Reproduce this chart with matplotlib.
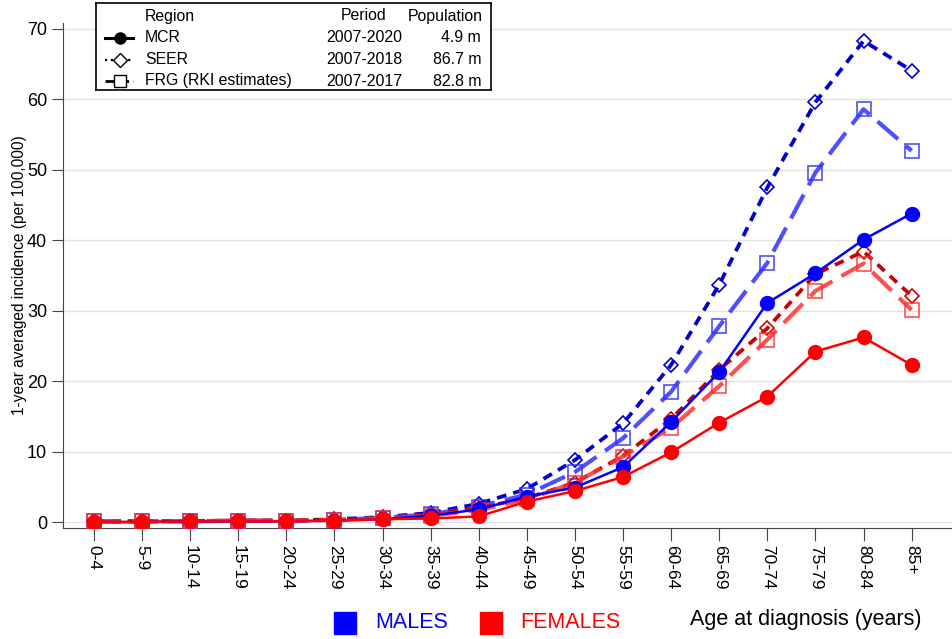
import numpy as np
import matplotlib
matplotlib.use('Agg')
import matplotlib.pyplot as plt
from matplotlib.patches import Rectangle

plt.rcParams['font.family'] = ['Liberation Sans', 'DejaVu Sans']

# 年龄组
ages = ['0-4', '5-9', '10-14', '15-19', '20-24', '25-29', '30-34', '35-39', '40-44',
        '45-49', '50-54', '55-59', '60-64', '65-69', '70-74', '75-79', '80-84', '85+']

# 男性
mcr_m = [0.0, 0.0, 0.1, 0.1, 0.1, 0.2, 0.4, 0.9, 1.8, 3.6, 4.9, 7.8, 14.2, 21.3, 31.1, 35.3, 40.1, 43.8]
seer_m = [0.1, 0.1, 0.1, 0.2, 0.2, 0.4, 0.7, 1.3, 2.6, 4.7, 8.8, 14.0, 22.3, 33.7, 47.5, 59.6, 68.3, 64.1]
frg_m = [0.1, 0.1, 0.1, 0.2, 0.2, 0.3, 0.6, 1.1, 2.2, 3.9, 7.1, 11.9, 18.5, 27.8, 36.8, 49.6, 58.6, 52.7]

# 女性
mcr_f = [0.0, 0.0, 0.1, 0.1, 0.1, 0.2, 0.4, 0.5, 0.8, 2.9, 4.4, 6.4, 9.9, 14.1, 17.8, 24.2, 26.2, 22.3]
seer_f = [0.1, 0.1, 0.1, 0.2, 0.2, 0.3, 0.6, 1.0, 2.0, 3.4, 5.6, 9.4, 14.6, 21.6, 27.5, 35.2, 38.4, 32.1]
frg_f = [0.1, 0.1, 0.1, 0.2, 0.2, 0.3, 0.5, 0.9, 1.7, 3.2, 5.6, 9.3, 13.4, 19.3, 25.9, 32.8, 36.7, 30.1]

regions = ['MCR', 'SEER', 'FRG (RKI estimates)']
periods = ['2007-2020', '2007-2018', '2007-2017']
populations = ['4.9 m', '86.7 m', '82.8 m']

x = np.arange(len(ages))

fig = plt.figure(figsize=(9.52, 6.39), dpi=100)
ax = fig.add_axes([63 / 952, 111 / 639, 1 - 63 / 952, (528 - 23) / 639])

dot = (0, (2.6, 1.9))
dash = (0, (6.5, 2.5))


def draw(mcr, seer, frg, c_solid, c_dot, c_dash):
    ax.plot(x, seer, color=c_dot, lw=2.7, linestyle=dot, marker='D', ms=7,
            mfc='none', mec=c_dot, mew=1.2, zorder=3)
    ax.plot(x, frg, color=c_dash, lw=3, linestyle=dash, marker='s', ms=10,
            mfc='none', mec=c_dash, mew=1.2, alpha=0.85, zorder=3)
    ax.plot(x, mcr, color=c_solid, lw=1.8, marker='o', ms=10, zorder=4)


draw(mcr_m, seer_m, frg_m, '#0000ff', '#0000cc', '#3030ff')
draw(mcr_f, seer_f, frg_f, '#ff0000', '#cc0000', '#ff3030')

ax.set_xlim(-0.645, 17.84)
ax.set_ylim(-0.85, 70.85)
ax.set_yticks(np.arange(0, 71, 10))
ax.set_xticks(x)
ax.set_xticklabels(ages, rotation=-90, fontsize=12.5)
ax.tick_params(axis='y', labelsize=13, length=8, color='#444444')
ax.tick_params(axis='x', length=9, color='#444444')
ax.grid(axis='y', color='#e3e3e3', lw=1)
ax.set_axisbelow(True)
for s in ['top', 'right']:
    ax.spines[s].set_visible(False)
for s in ['left', 'bottom']:
    ax.spines[s].set_color('#444444')
ax.set_ylabel('1-year averaged incidence (per 100,000)', fontsize=11.2, labelpad=0)

# 左上角图例框
lg = fig.add_axes([96 / 952, (639 - 90) / 639, (491 - 96) / 952, 87 / 639])
lg.set_xlim(96, 491)
lg.set_ylim(90, 3)
lg.set_xticks([])
lg.set_yticks([])
for s in lg.spines.values():
    s.set_linewidth(1.2)
fs = 11.4
lg.text(145, 16, 'Region', fontsize=fs, va='center')
lg.text(364, 16, 'Period', fontsize=fs, va='center', ha='center')
lg.text(445, 16, 'Population', fontsize=fs, va='center', ha='center')
styles = [('-', 'o', 'black', 2.2, 8), ((0, (1, 1.6)), 'D', 'white', 1.6, 7), ((0, (3.5, 1.5)), 's', 'white', 2, 8)]
for i, (ls, mk, fc, lw, ms) in enumerate(styles):
    yy = 38 + 21.5 * i
    lg.plot([105, 133], [yy, yy], color='black', lw=lw, linestyle=ls)
    lg.plot([120], [yy], marker=mk, ms=ms, mfc=fc, mec='black', mew=1)
    lg.text(145, yy, regions[i], fontsize=fs, va='center')
    lg.text(364, yy, periods[i], fontsize=fs, va='center', ha='center')
    lg.text(481, yy, populations[i], fontsize=fs, va='center', ha='right')

# 底部性别说明
fig.add_artist(Rectangle((334 / 952, (639 - 634) / 639), 22 / 952, 22 / 639,
                         color='#0000ff', transform=fig.transFigure))
fig.text(375 / 952, (639 - 623) / 639, 'MALES', color='#0000ff', fontsize=15.5, va='center')
fig.add_artist(Rectangle((480 / 952, (639 - 634) / 639), 22 / 952, 22 / 639,
                         color='#ff0000', transform=fig.transFigure))
fig.text(520 / 952, (639 - 623) / 639, 'FEMALES', color='#ff0000', fontsize=15.5, va='center')
fig.text(690 / 952, (639 - 620) / 639, 'Age at diagnosis (years)', fontsize=15.5, va='center')

fig.savefig('out.png', dpi=100)
